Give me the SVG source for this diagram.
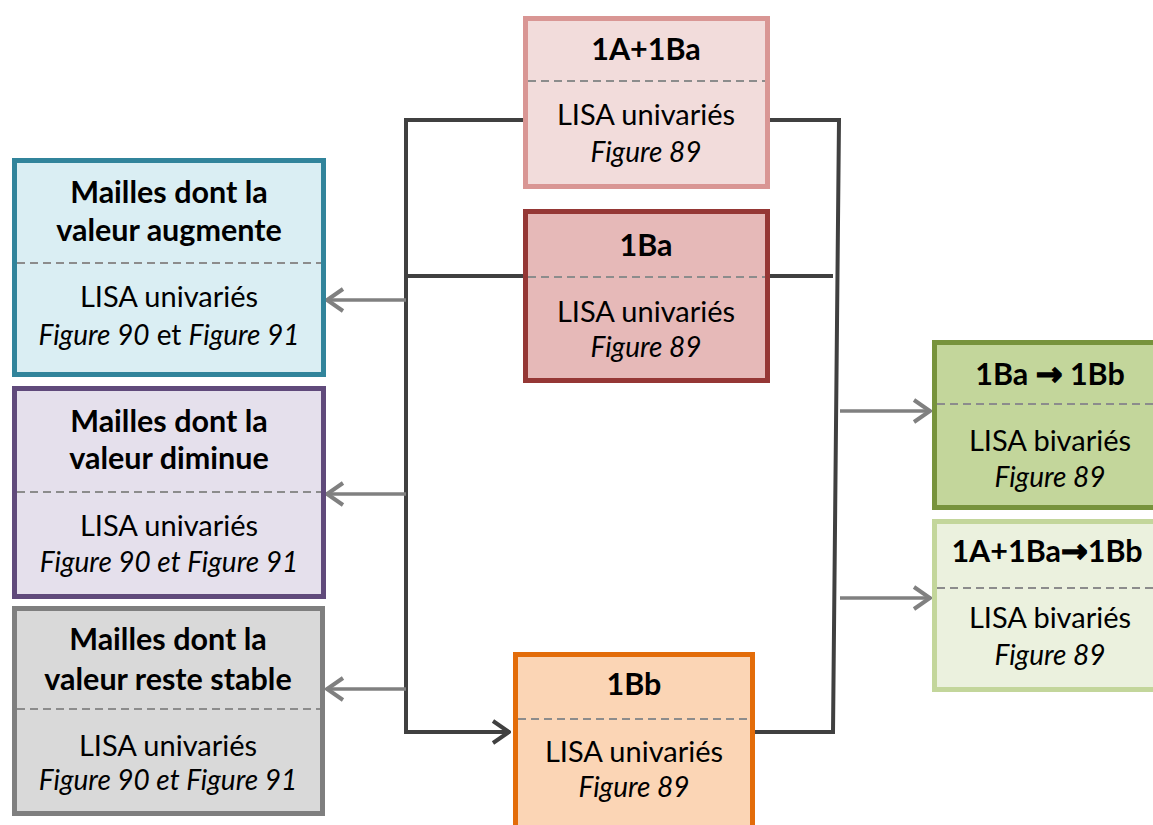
<svg xmlns="http://www.w3.org/2000/svg" width="1153" height="825" viewBox="0 0 1153 825">
<defs>
<style>
text{font-family:Lato,"Liberation Sans",sans-serif;font-size:29px;fill:#000;text-anchor:middle}
.b{font-weight:bold;font-size:30.5px}
.i{font-style:italic;font-size:28px}
.ar{font-family:"DejaVu Sans",sans-serif;font-weight:bold;font-size:32px;stroke:#000;stroke-width:1.4}
.box{stroke-width:5}
.dash{stroke:#8c8c8c;stroke-width:2;stroke-dasharray:8 5;fill:none}
.dk{stroke:#404040;stroke-width:4;fill:none}
.gr{stroke:#808080;stroke-width:3.5;fill:none}
</style>
<marker id="ag" markerUnits="userSpaceOnUse" viewBox="0 0 20 26" refX="19" refY="13" markerWidth="20" markerHeight="26" orient="auto"><path d="M2,2 L18,13 L2,24" fill="none" stroke="#808080" stroke-width="4"/></marker>
<marker id="ad" markerUnits="userSpaceOnUse" viewBox="0 0 20 26" refX="19" refY="13" markerWidth="20" markerHeight="26" orient="auto"><path d="M2,2 L18,13 L2,24" fill="none" stroke="#404040" stroke-width="4"/></marker>
</defs>
<rect width="1153" height="825" fill="#fff"/>
<g id="connectors">
<path class="dk" d="M525,120 H406 V732 H510" marker-end="url(#ad)"/>
<path class="dk" d="M406,276 H525"/>
<path class="dk" d="M770,120 H839 L833,732 H755"/>
<path class="dk" d="M762,276 H833"/>
<path class="gr" d="M406,300 H326" marker-end="url(#ag)"/>
<path class="gr" d="M406,494 H326" marker-end="url(#ag)"/>
<path class="gr" d="M406,689 H326" marker-end="url(#ag)"/>
<path class="gr" d="M840,411 H931" marker-end="url(#ag)"/>
<path class="gr" d="M840,598 H931" marker-end="url(#ag)"/>
</g>
<g id="n1A1Ba">
<rect class="box" x="525.5" y="18.5" width="242" height="168" fill="#F2DCDB" stroke="#D99694"/>
<line class="dash" x1="528" y1="81" x2="765" y2="81"/>
<text class="b" x="646" y="60">1A+1Ba</text>
<text x="646" y="125">LISA univariés</text>
<text class="i" x="646" y="162">Figure 89</text>
</g>
<g id="n1Ba">
<rect class="box" x="525.5" y="211.5" width="242" height="169" fill="#E6B9B8" stroke="#953735"/>
<line class="dash" x1="528" y1="277" x2="765" y2="277"/>
<text class="b" x="646" y="256">1Ba</text>
<text x="646" y="322">LISA univariés</text>
<text class="i" x="646" y="357">Figure 89</text>
</g>
<g id="nAug">
<rect class="box" x="14.5" y="160.5" width="309" height="214" fill="#DAEEF3" stroke="#31849B"/>
<line class="dash" x1="17" y1="263" x2="321" y2="263"/>
<text class="b" x="169" y="203">Mailles dont la</text>
<text class="b" x="169" y="241">valeur augmente</text>
<text x="169" y="307">LISA univariés</text>
<text x="169" y="345"><tspan class="i">Figure 90</tspan><tspan font-size="28"> et </tspan><tspan class="i">Figure 91</tspan></text>
</g>
<g id="nDim">
<rect class="box" x="14.5" y="388.5" width="309" height="208" fill="#E5E0EC" stroke="#604A7B"/>
<line class="dash" x1="17" y1="492" x2="321" y2="492"/>
<text class="b" x="169" y="432">Mailles dont la</text>
<text class="b" x="169" y="469">valeur diminue</text>
<text x="169" y="536">LISA univariés</text>
<text class="i" x="169" y="572">Figure 90 et Figure 91</text>
</g>
<g id="nStable">
<rect class="box" x="14.5" y="608.5" width="308" height="205" fill="#D9D9D9" stroke="#7F7F7F"/>
<line class="dash" x1="17" y1="709" x2="320" y2="709"/>
<text class="b" x="168" y="650">Mailles dont la</text>
<text class="b" x="168" y="690">valeur reste stable</text>
<text x="168" y="756">LISA univariés</text>
<text class="i" x="168" y="790">Figure 90 et Figure 91</text>
</g>
<g id="n1Bb">
<rect class="box" x="515.5" y="654.5" width="237" height="200" fill="#FBD5B5" stroke="#E36C09"/>
<line class="dash" x1="518" y1="719" x2="750" y2="719"/>
<text class="b" x="634" y="695">1Bb</text>
<text x="634" y="762">LISA univariés</text>
<text class="i" x="634" y="797">Figure 89</text>
</g>
<g id="nBaBb">
<rect class="box" x="934.5" y="342.5" width="252" height="165" fill="#C3D69B" stroke="#77933C"/>
<line class="dash" x1="937" y1="404" x2="1160" y2="404"/>
<text class="b" x="1050" y="385">1Ba <tspan class="ar">→</tspan> 1Bb</text>
<text x="1050" y="451">LISA bivariés</text>
<text class="i" x="1050" y="487">Figure 89</text>
</g>
<g id="nA1BaBb">
<rect class="box" x="934.5" y="521.5" width="252" height="168" fill="#EBF1DE" stroke="#C3D69B"/>
<line class="dash" x1="937" y1="588" x2="1160" y2="588"/>
<text class="b" x="1047" y="562">1A+1Ba<tspan class="ar">→</tspan>1Bb</text>
<text x="1050" y="628">LISA bivariés</text>
<text class="i" x="1050" y="665">Figure 89</text>
</g>
</svg>
